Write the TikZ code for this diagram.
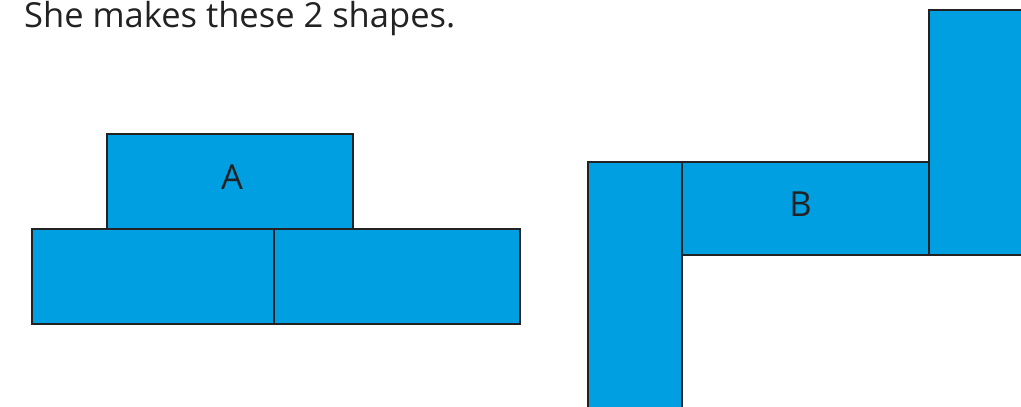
\documentclass[tikz,border=0pt]{standalone}
\usepackage{fontspec}
\setmainfont{Open Sans}
\definecolor{tile}{RGB}{0,159,226}
\definecolor{ink}{RGB}{34,34,34}
\tikzset{brick/.style={draw=ink, fill=tile, line width=2.6pt, inner sep=0pt, outer sep=0pt},
  etq/.style={font=\fontsize{34.5}{38}\selectfont, text=ink}}

\begin{document}
\begin{tikzpicture}[x=1pt, y=-1pt]
  \useasboundingbox (0,0) rectangle (1021,407);
  \node[etq, anchor=base west, inner sep=0pt] (title) at (24,27) {She makes these 2 shapes.};
  % shape A
  \node[brick, minimum width=246pt, minimum height=95pt, anchor=north west] (atop) at (107,134) {};
  \node[brick, minimum width=242pt, minimum height=95pt, anchor=north west] (aleft) at (32,229) {};
  \node[brick, minimum width=246pt, minimum height=95pt, anchor=north west] (aright) at (274,229) {};
  \node[etq] (la) at (atop.center) [xshift=2pt, yshift=4.5pt] {A};
  % shape B
  \node[brick, minimum width=94pt, minimum height=260pt, anchor=north west] (bleft) at (588,162) {};
  \node[brick, minimum width=247pt, minimum height=93pt, anchor=north west] (bmid) at (682,162) {};
  \node[brick, minimum width=110pt, minimum height=245pt, anchor=north west] (bright) at (929,10) {};
  \node[etq] (lb) at (bmid.center) [xshift=-5pt, yshift=4.5pt] {B};
\end{tikzpicture}
\end{document}
